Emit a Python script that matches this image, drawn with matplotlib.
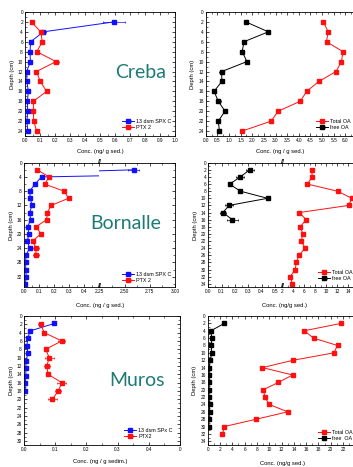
import matplotlib
matplotlib.use("Agg")
import matplotlib.pyplot as plt
from matplotlib.ticker import MultipleLocator, FixedLocator

plt.rcParams['font.family'] = ['Liberation Sans', 'DejaVu Sans']

W, H = 353, 467
BLUE = '#1010ff'
RED = '#ff1010'
BLACK = '#000000'
TEAL = '#1d7b76'

# ---- Creba ----
depth_creba = [2, 4, 6, 8, 10, 12, 14, 16, 18, 20, 22, 24]
spx_creba = [0.593, 0.122, 0.038, 0.033, 0.036, 0.011, 0.013, 0.022, 0.016, 0.018, 0.013, 0.018]
spx_creba_err = [0.075, 0.015, 0.005, 0.008, 0.005, 0.003, 0.003, 0.004, 0.003, 0.004, 0.003, 0.005]
ptx_creba = [0.044, 0.104, 0.116, 0.078, 0.207, 0.076, 0.102, 0.144, 0.056, 0.056, 0.058, 0.078]
ptx_creba_err = [0.012, 0.008, 0.010, 0.010, 0.020, 0.005, 0.012, 0.010, 0.012, 0.006, 0.008, 0.006]
free_creba = [1.73, 2.69, 1.64, 1.57, 1.77, 0.69, 0.69, 0.36, 0.54, 0.83, 0.54, 0.59]
free_creba_err = [0.05, 0.08, 0.05, 0.05, 0.06, 0.10, 0.05, 0.05, 0.10, 0.10, 0.05, 0.07]
total_creba = [5.06, 5.26, 5.19, 5.90, 5.83, 5.60, 4.86, 4.34, 4.06, 3.11, 2.81, 1.57]

# ---- Bornalle ----
depth_born_spx = [2, 4, 6, 8, 10, 12, 14, 16, 18, 20, 22, 24, 26, 28, 30, 32, 34]
spx_born = [2.59, 0.116, 0.073, 0.037, 0.042, 0.053, 0.037, 0.044, 0.024, 0.033,
            0.022, 0.037, 0.013, 0.011, 0.011, 0.015, 0.009]
spx_born_err = [0.055, 0.005, 0.004, 0.004, 0.004, 0.004, 0.004, 0.004, 0.004, 0.004,
                0.004, 0.004, 0.003, 0.003, 0.003, 0.003, 0.003]
depth_born_ptx = [2, 4, 6, 8, 10, 12, 14, 16, 18, 20, 22, 24, 26]
ptx_born = [0.088, 0.167, 0.136, 0.266, 0.295, 0.180, 0.154, 0.150, 0.080, 0.112, 0.057, 0.079, 0.079]
ptx_born_err = [0.005, 0.005, 0.005, 0.015, 0.012, 0.005, 0.010, 0.013, 0.010, 0.005, 0.005, 0.020, 0.020]
depth_born_free = [2, 4, 6, 8, 10, 12, 14, 16]
free_born = [0.31, 0.24, 0.16, 0.24, 0.445, 0.155, 0.11, 0.18]
free_born_err = [0.03, 0.03, 0.005, 0.005, 0.005, 0.03, 0.02, 0.04]
depth_born_total = [2, 4, 6, 8, 10, 12, 14, 16, 18, 20, 22, 24, 26, 28, 30, 32, 34]
total_born = [7.4, 7.5, 6.6, 12.1, 14.7, 14.1, 5.15, 6.4, 5.3, 5.8, 5.5, 6.2, 5.1, 4.6, 4.4, 3.5, 3.9]

# ---- Muros ----
depth_mur_spx = [1.8, 3.6, 5.4, 7.2, 9.0, 10.8, 12.6, 14.4, 16.2, 18.0]
spx_mur = [0.097, 0.019, 0.012, 0.009, 0.013, 0.006, 0.006, 0.006, 0.004, 0.004]
depth_mur_ptx = [2, 4, 6, 8, 10, 12, 14, 16, 18, 20]
ptx_mur = [0.053, 0.065, 0.121, 0.069, 0.081, 0.073, 0.077, 0.121, 0.110, 0.091]
ptx_mur_err = [0.007, 0.006, 0.012, 0.006, 0.015, 0.010, 0.004, 0.015, 0.010, 0.015]
depth_mur_free = [2, 4, 6, 8, 10, 12, 14, 16, 18, 20, 22, 24, 26, 28, 30]
free_mur = [2.7, 0.54, 0.65, 0.60, 0.65, 0.43, 0.22, 0.27, 0.27, 0.20, 0.20, 0.30, 0.30, 0.20, 0.20]
depth_mur_total = [2, 4, 6, 8, 10, 12, 14, 16, 18, 20, 22, 24, 26, 28, 30, 32]
total_mur = [21.7, 15.7, 17.2, 21.1, 20.5, 13.9, 8.9, 13.8, 11.5, 9.05, 9.3, 10.0, 13.0, 7.9, 2.7, 2.4]

fig = plt.figure(figsize=(W / 100, H / 100), dpi=100)


def add_ax(x0, x1, top, bottom):
    # pixel box -> figure fraction
    return fig.add_axes([x0 / W, 1 - bottom / H, (x1 - x0) / W, (bottom - top) / H])


def style(ax, ylim, ymaj, ymin, show_y=True):
    ax.set_ylim(ylim, 0)
    ax.yaxis.set_major_locator(MultipleLocator(ymaj))
    ax.yaxis.set_minor_locator(MultipleLocator(ymin))
    ax.tick_params(which='both', direction='in', top=True, right=True, labelsize=3.4, pad=1.5)
    ax.tick_params(which='major', length=2.2, width=0.5)
    ax.tick_params(which='minor', length=1.2, width=0.4)
    if not show_y:
        ax.tick_params(axis='y', which='both', left=False, labelleft=False)
    for s in ax.spines.values():
        s.set_linewidth(0.6)


def series(ax, x, y, color, err=None, label=None):
    ax.errorbar(x, y, xerr=err, color=color, marker='s', ms=2.2, lw=0.7,
                elinewidth=0.5, capsize=1.0, capthick=0.5, label=label)


def ylab(ax):
    ax.set_ylabel('Depth (cm)', fontsize=4.2, labelpad=2)


def xlab(x, y, text):
    fig.text(x / W, 1 - y / H, text, fontsize=4.2, ha='center', va='center')


def legend(ax, handles, labels, x, y):
    ax.legend(handles, labels, loc='upper left', bbox_to_anchor=(x / W, 1 - y / H),
              bbox_transform=fig.transFigure, frameon=False, fontsize=3.9,
              borderpad=0, borderaxespad=0, handlelength=2.3, handletextpad=0.35,
              labelspacing=0.2)


def break_marks(x, ytop, ybot):
    for yy in (ytop, ybot):
        fig.text(x / W, 1 - yy / H, '//', fontsize=5, ha='center', va='center',
                 fontweight='bold')


def station(x, y, name):
    fig.text(x / W, 1 - y / H, name, fontsize=14, color=TEAL, ha='center', va='center',
             family=['Lato', 'DejaVu Sans'])


# Creba left
ax = add_ax(25, 175, 12, 136)
series(ax, spx_creba, depth_creba, BLUE, spx_creba_err, '13 dsm SPX C')
series(ax, ptx_creba, depth_creba, RED, ptx_creba_err, 'PTX 2')
ax.set_xlim(0, 1.0)
ax.xaxis.set_major_locator(MultipleLocator(0.1))
ax.xaxis.set_minor_locator(MultipleLocator(0.05))
ax.xaxis.set_major_formatter(lambda v, p: f'{v:.1f}')
style(ax, 25, 2, 1)
ylab(ax)
h, l = ax.get_legend_handles_labels()
legend(ax, h, l, 122, 119)
xlab(100, 152, 'Conc. (ng/ g sed.)')
station(141, 72, 'Creba')

# Creba right
ax = add_ax(205.7, 357, 12, 136)
series(ax, total_creba, depth_creba, RED, None, 'Total OA')
series(ax, free_creba, depth_creba, BLACK, free_creba_err, 'free OA')
ax.set_xlim(0, 6.5)
ax.xaxis.set_major_locator(FixedLocator([i * 0.5 for i in range(13)]))
ax.xaxis.set_minor_locator(MultipleLocator(0.25))
ax.xaxis.set_major_formatter(lambda v, p: f'{v:.1f}')
style(ax, 25, 2, 1)
ylab(ax)
h, l = ax.get_legend_handles_labels()
legend(ax, h, l, 316, 119)
xlab(280, 152, 'Conc. (ng / g sed.)')

# Bornalle left (broken axis)
axl = add_ax(24, 99.5, 162.7, 287.3)
axr = add_ax(99.5, 175, 162.7, 287.3)
for a in (axl, axr):
    series(a, spx_born, depth_born_spx, BLUE, spx_born_err, '13 dsm SPX C')
    series(a, ptx_born, depth_born_ptx, RED, ptx_born_err, 'PTX 2')
axl.set_xlim(0, 0.5)
axl.xaxis.set_major_locator(FixedLocator([0, 0.1, 0.2, 0.3, 0.4]))
axl.xaxis.set_minor_locator(MultipleLocator(0.05))
axl.xaxis.set_major_formatter(lambda v, p: f'{v:.1f}')
axr.set_xlim(2.25, 3.0)
axr.xaxis.set_major_locator(FixedLocator([2.25, 2.5, 2.75, 3.0]))
axr.xaxis.set_minor_locator(MultipleLocator(0.125))
axr.xaxis.set_major_formatter(lambda v, p: f'{v:.2f}')
style(axl, 35, 4, 2)
style(axr, 35, 4, 2, show_y=False)
axl.spines['right'].set_visible(False)
axr.spines['left'].set_visible(False)
axl.tick_params(axis='y', which='both', right=False)
axr.tick_params(axis='y', which='both', right=True)
ylab(axl)
h, l = axr.get_legend_handles_labels()
legend(axr, h, l, 122, 272)
xlab(100, 305, 'Conc. (ng / g sed.)')
break_marks(100, 163, 287)
station(126, 223, 'Bornalle')

# Bornalle right (broken axis)
bxl = add_ax(208.3, 282, 162.7, 287.3)
bxr = add_ax(282, 359, 162.7, 287.3)
for a in (bxl, bxr):
    series(a, total_born, depth_born_total, RED, None, 'Total OA')
    series(a, free_born, depth_born_free, BLACK, free_born_err, 'free OA')
bxl.set_xlim(0, 0.553)
bxl.xaxis.set_major_locator(FixedLocator([0, 0.1, 0.2, 0.3, 0.4, 0.5]))
bxl.xaxis.set_minor_locator(MultipleLocator(0.05))
bxl.xaxis.set_major_formatter(lambda v, p: f'{v:.1f}')
bxr.set_xlim(2, 16)
bxr.xaxis.set_major_locator(MultipleLocator(2))
bxr.xaxis.set_minor_locator(MultipleLocator(1))
bxr.xaxis.set_major_formatter(lambda v, p: f'{v:.0f}' if v < 15 else '')
style(bxl, 35, 2, 1)
style(bxr, 35, 2, 1, show_y=False)
bxl.spines['right'].set_visible(False)
bxr.spines['left'].set_visible(False)
bxl.tick_params(axis='y', which='both', right=False)
ylab(bxl)
h, l = bxr.get_legend_handles_labels()
legend(bxr, h, l, 318, 270)
xlab(285, 305, 'Conc. (ng/g sed.)')
break_marks(283, 163, 287)

# Muros left
ax = add_ax(24, 180, 316, 445)
series(ax, spx_mur, depth_mur_spx, BLUE, None, '13 dsm SPx C')
series(ax, ptx_mur, depth_mur_ptx, RED, ptx_mur_err, 'PTX2')
ax.set_xlim(0, 0.5)
ax.xaxis.set_major_locator(MultipleLocator(0.1))
ax.xaxis.set_minor_locator(MultipleLocator(0.05))
ax.xaxis.set_major_formatter(lambda v, p: f'{v:.1f}' if v < 0.45 else '0')
style(ax, 31, 2, 1)
ylab(ax)
h, l = ax.get_legend_handles_labels()
legend(ax, h, l, 124, 428)
xlab(100, 461, 'Conc. (ng / g sedim.)')
station(137, 381, 'Muros')

# Muros right
ax = add_ax(207.7, 361.5, 316, 445)
series(ax, total_mur, depth_mur_total, RED, None, 'Total OA')
series(ax, free_mur, depth_mur_free, BLACK, None, 'free  OA')
ax.set_xlim(0, 25)
ax.xaxis.set_major_locator(MultipleLocator(2))
ax.xaxis.set_minor_locator(MultipleLocator(1))
ax.xaxis.set_major_formatter(lambda v, p: f'{v:.0f}' if v < 23 else '')
style(ax, 35, 2, 1)
ylab(ax)
h, l = ax.get_legend_handles_labels()
legend(ax, h, l, 318, 430)
xlab(283, 463, 'Conc. (ng/g sed.)')

fig.savefig('out.png', dpi=100)
